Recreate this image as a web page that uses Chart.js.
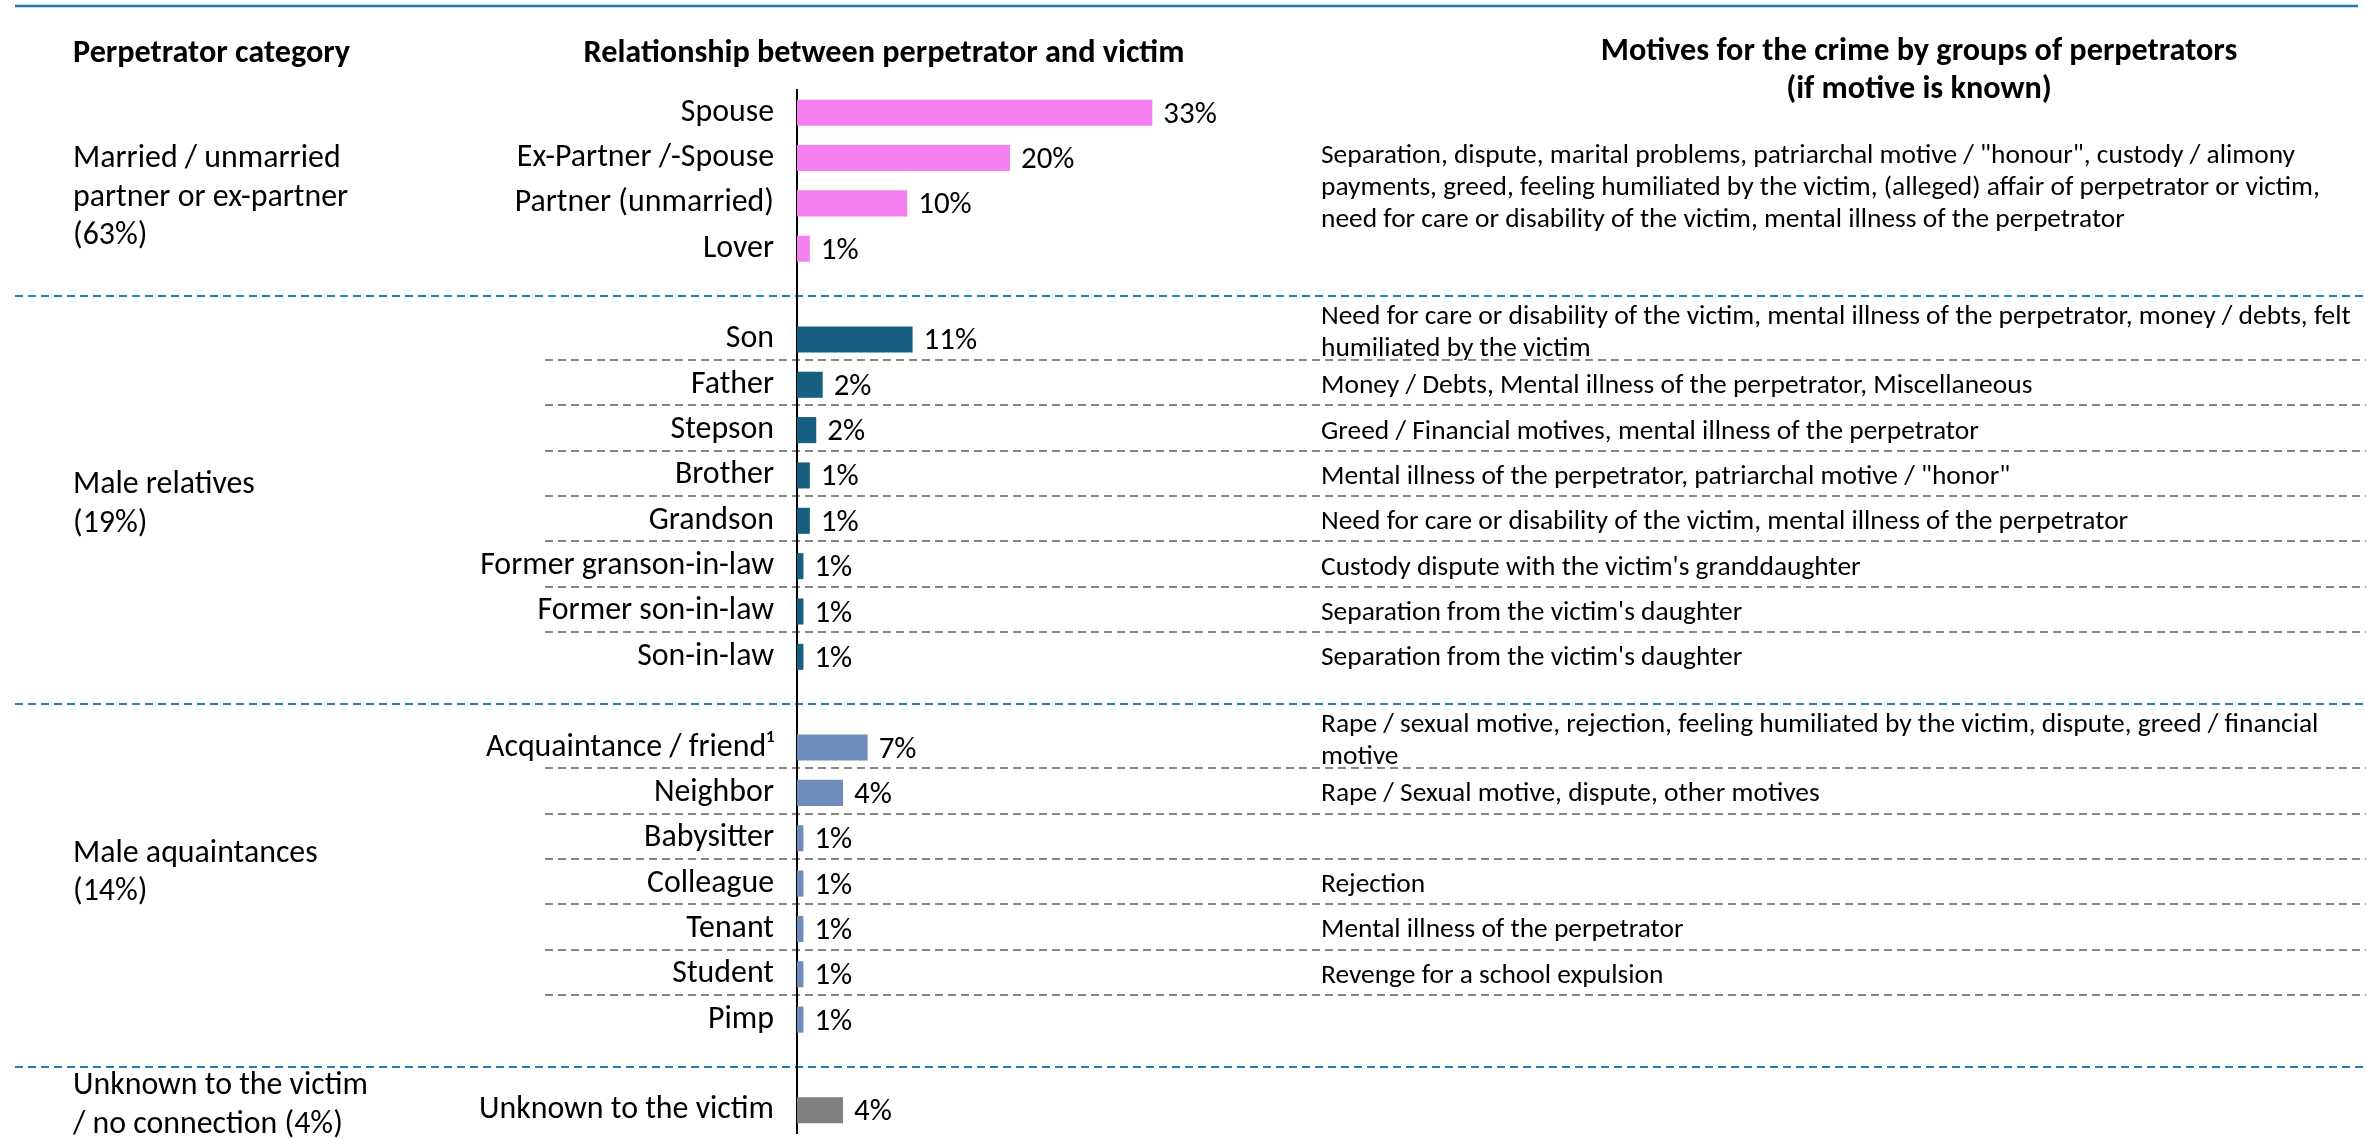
<!DOCTYPE html>
<html>
<head>
<meta charset="utf-8">
<script src="https://cdn.jsdelivr.net/npm/chart.js@4/dist/chart.umd.min.js"></script>
<style>
html,body{margin:0;padding:0;background:#fff;}
#wrap{width:2366px;height:1139px;position:relative;}
</style>
</head>
<body>
<div id="wrap"><canvas id="c" width="2366" height="1139"></canvas></div>
<script>
// ---------------- DATA ----------------
const partnerCats = ['Spouse', 'Ex-Partner /-Spouse', 'Partner (unmarried)', 'Lover'];
const partnerVals = [33.2, 19.9, 10.3, 1.2];

const relativeCats = ['Son', 'Father', 'Stepson', 'Brother', 'Grandson', 'Former granson-in-law', 'Former son-in-law', 'Son-in-law'];
const relativeVals = [10.8, 2.4, 1.8, 1.2, 1.2, 0.6, 0.6, 0.6];

const acquaintanceCats = ['Acquaintance / friend\u00B9', 'Neighbor', 'Babysitter', 'Colleague', 'Tenant', 'Student', 'Pimp'];
const acquaintanceVals = [6.6, 4.3, 0.6, 0.6, 0.6, 0.6, 0.6];

const unknownCats = ['Unknown to the victim'];
const unknownVals = [4.3];

const groupLabels = [
  ['Married / unmarried', 'partner or ex-partner', '(63%)'],
  ['Male relatives', '(19%)'],
  ['Male aquaintances', '(14%)'],
  ['Unknown to the victim', '/ no connection (4%)']
];

const partnerMotive = [
  'Separation, dispute, marital problems, patriarchal motive / "honour", custody / alimony',
  'payments, greed, feeling humiliated by the victim, (alleged) affair of perpetrator or victim,',
  'need for care or disability of the victim, mental illness of the perpetrator'
];
const relativeMotives = [
  ['Need for care or disability of the victim, mental illness of the perpetrator, money / debts, felt', 'humiliated by the victim'],
  ['Money / Debts, Mental illness of the perpetrator, Miscellaneous'],
  ['Greed / Financial motives, mental illness of the perpetrator'],
  ['Mental illness of the perpetrator, patriarchal motive / "honor"'],
  ['Need for care or disability of the victim, mental illness of the perpetrator'],
  ["Custody dispute with the victim's granddaughter"],
  ["Separation from the victim's daughter"],
  ["Separation from the victim's daughter"]
];
const acquaintanceMotives = [
  ['Rape / sexual motive, rejection, feeling humiliated by the victim, dispute, greed / financial', 'motive'],
  ['Rape / Sexual motive, dispute, other motives'],
  [],
  ['Rejection'],
  ['Mental illness of the perpetrator'],
  ['Revenge for a school expulsion'],
  []
];
const unknownMotives = [[]];

const headers = {
  category: 'Perpetrator category',
  relation: 'Relationship between perpetrator and victim',
  motives: ['Motives for the crime by groups of perpetrators', '(if motive is known)']
};

const groupColors = ['#F480F0', '#175F80', '#6E8DBA', '#808080'];

// ---------------- BUILD ROWS ----------------
const groups = [
  {cats: partnerCats, vals: partnerVals, motives: null, rowSeps: false},
  {cats: relativeCats, vals: relativeVals, motives: relativeMotives, rowSeps: true},
  {cats: acquaintanceCats, vals: acquaintanceVals, motives: acquaintanceMotives, rowSeps: true},
  {cats: unknownCats, vals: unknownVals, motives: unknownMotives, rowSeps: false}
];
const labels = [], values = [], colors = [], groupRanges = [], gapRows = [];
groups.forEach((g, gi) => {
  const start = labels.length;
  g.cats.forEach((c, i) => { labels.push(c); values.push(g.vals[i]); colors.push(groupColors[gi]); });
  groupRanges.push([start, labels.length - 1]);
  if (gi < groups.length - 1) { gapRows.push(labels.length); labels.push(''); values.push(null); colors.push('rgba(0,0,0,0)'); }
});

// ---------------- FONTS ----------------
const mctx = document.createElement('canvas').getContext('2d');
function hasFont(name) {
  const s = 'abcdefghijklmnopqrstuvwxyzABCDEFGHIJ0123456789';
  mctx.font = '40px monospace'; const a = mctx.measureText(s).width;
  mctx.font = '40px "' + name + '", monospace'; const b = mctx.measureText(s).width;
  return Math.abs(a - b) > 0.5;
}
let FAM = 'sans-serif';
for (const f of ['Carlito', 'Liberation Sans', 'Arial']) { if (hasFont(f)) { FAM = '"' + f + '"'; break; } }
function fit(pairs, weight) {
  let s = 0;
  pairs.forEach(([t, w]) => { mctx.font = weight + ' 100px ' + FAM; s += 100 * w / mctx.measureText(t).width; });
  return s / pairs.length;
}
const tickSize = fit([['Former granson-in-law', 294], ['Ex-Partner /-Spouse', 258], ['Unknown to the victim', 294]], 'normal');
const groupSize = fit([['Married / unmarried', 267], ['partner or ex-partner', 276], ['Male aquaintances', 245]], 'normal');
const motiveSize = fit([[partnerMotive[0], 975], ['Money / Debts, Mental illness of the perpetrator, Miscellaneous', 711]], 'normal');
const headerSize = fit([['Perpetrator category', 273], ['Relationship between perpetrator and victim', 597], ['Motives for the crime by groups of perpetrators', 650]], 'bold');
const valueSize = fit([['20%', 54], ['10%', 53]], 'normal');

function capH(font) { mctx.font = font; return mctx.measureText('H').actualBoundingBoxAscent; }

// layout tweaks for the group caption blocks (pixel shifts from band centre)
const groupCaptionShift = [3, 4, -13, 1];

// ---------------- DECORATION PLUGIN ----------------
const deco = {
  id: 'deco',
  beforeDraw(chart) {
    const {ctx, chartArea, scales: {y}} = chart;
    const W = chart.width;
    ctx.save();
    // top solid line
    ctx.strokeStyle = '#1F7BAF'; ctx.lineWidth = 2.5; ctx.setLineDash([]);
    ctx.beginPath(); ctx.moveTo(15, 6); ctx.lineTo(2358, 6); ctx.stroke();
    // blue dashed group separators
    ctx.strokeStyle = '#2180B0'; ctx.lineWidth = 2; ctx.setLineDash([8, 5]);
    gapRows.forEach(r => {
      const py = Math.round(y.getPixelForValue(r)) + 2;
      ctx.beginPath(); ctx.moveTo(15, py); ctx.lineTo(W, py); ctx.stroke();
    });
    // gray dashed row separators
    ctx.strokeStyle = '#868686'; ctx.lineWidth = 2; ctx.setLineDash([8, 5]);
    groups.forEach((g, gi) => {
      if (!g.rowSeps) return;
      const [a, b] = groupRanges[gi];
      for (let r = a; r < b; r++) {
        const py = Math.round((y.getPixelForValue(r) + y.getPixelForValue(r + 1)) / 2) - 2;
        ctx.beginPath(); ctx.moveTo(545, py); ctx.lineTo(W, py); ctx.stroke();
      }
    });
    ctx.setLineDash([]);
    ctx.restore();
  },
  afterDraw(chart) {
    const {ctx, chartArea, scales: {y}} = chart;
    ctx.save();
    ctx.fillStyle = '#000';
    ctx.textBaseline = 'alphabetic';
    // headers
    const hf = 'bold ' + headerSize + 'px ' + FAM;
    ctx.font = hf;
    ctx.textAlign = 'left'; ctx.fillText(headers.category, 73, 62);
    ctx.textAlign = 'center'; ctx.fillText(headers.relation, 884, 62);
    ctx.fillText(headers.motives[0], 1919, 60);
    ctx.fillText(headers.motives[1], 1919, 98);

    // group labels
    const gf = groupSize + 'px ' + FAM; const gch = capH(gf);
    ctx.font = gf; ctx.textAlign = 'left';
    const bands = [];
    for (let gi = 0; gi < groups.length; gi++) {
      const top = gi === 0 ? chartArea.top : y.getPixelForValue(gapRows[gi - 1]);
      const bot = gi === groups.length - 1 ? chart.height : y.getPixelForValue(gapRows[gi]);
      bands.push((top + bot) / 2 + groupCaptionShift[gi]);
    }
    const glh = 38.5;
    groupLabels.forEach((lines, gi) => {
      const c = bands[gi];
      lines.forEach((t, i) => {
        const cy = c + (i - (lines.length - 1) / 2) * glh;
        ctx.fillText(t, 73, cy + gch / 2);
      });
    });

    // motives
    const mf = motiveSize + 'px ' + FAM; const mch = capH(mf);
    ctx.font = mf; ctx.textAlign = 'left';
    const mlh = 32, mx = 1321;
    function block(lines, center) {
      lines.forEach((t, i) => {
        const cy = center + (i - (lines.length - 1) / 2) * mlh;
        ctx.fillText(t, mx, cy + mch / 2);
      });
    }
    const [p0, p1] = groupRanges[0];
    block(partnerMotive, (y.getPixelForValue(p0) + y.getPixelForValue(p1)) / 2 + 6);
    groups.forEach((g, gi) => {
      if (!g.motives) return;
      const [a] = groupRanges[gi];
      g.motives.forEach((lines, i) => {
        if (!lines.length) return;
        const rc = y.getPixelForValue(a + i);
        block(lines, lines.length > 1 ? rc - 8 : rc);
      });
    });

    // value labels
    const vf = valueSize + 'px ' + FAM; const vch = capH(vf);
    ctx.font = vf; ctx.textAlign = 'left';
    const meta = chart.getDatasetMeta(0);
    meta.data.forEach((el, i) => {
      const v = values[i];
      if (v === null || v === undefined) return;
      ctx.fillText(Math.round(v) + '%', el.x + 11, el.y + vch / 2);
    });
    ctx.restore();
  }
};

// ---------------- CHART ----------------
Chart.defaults.font.family = FAM;
new Chart(document.getElementById('c'), {
  type: 'bar',
  data: {
    labels: labels,
    datasets: [{
      data: values,
      backgroundColor: colors,
      borderWidth: 0,
      categoryPercentage: 0.575,
      barPercentage: 1.0
    }]
  },
  options: {
    indexAxis: 'y',
    responsive: false,
    animation: false,
    devicePixelRatio: 1,
    layout: {padding: {top: 90, bottom: 6, left: 0, right: 0}},
    plugins: {legend: {display: false}, tooltip: {enabled: false}},
    scales: {
      x: {display: false, min: 0, max: 146.6},
      y: {
        type: 'category',
        offset: true,
        grid: {display: false, drawTicks: false},
        border: {display: true, color: '#000', width: 2},
        ticks: {
          autoSkip: false,
          padding: 23,
          color: '#000',
          font: {size: tickSize, family: FAM}
        },
        afterFit(scale) {
          scale.width = 797;
          scale.paddingTop = 0;
          scale.paddingBottom = 0;
        }
      }
    }
  },
  plugins: [deco]
});
</script>
</body>
</html>
